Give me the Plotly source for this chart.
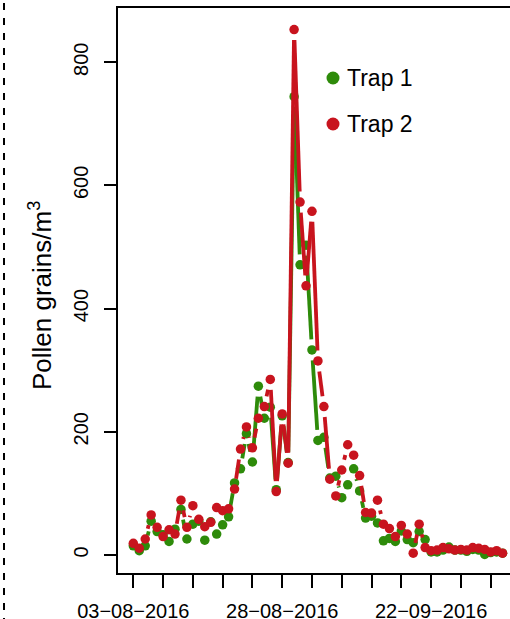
import math
import pandas as pd
import plotly.graph_objects as go

# ---------------- data ----------------
start_date = "2016-08-03"
trap1 = [15, 7, 15, 55, 38, 33, 22, 42, 74, 26, 50, 55, 24, 54, 34, 49, 62, 117, 140, 197,
         151, 274, 222, 240, 106, 226, 150, 744, 471, 503, 333, 186, 191, 125, 128, 93, 114, 140,
         104, 60, 63, 52, 23, 27, 22, 39, 25, 20, 38, 25, 5, 5, 8, 13, 8, 8, 6, 9, 8, 1, 4, 5, 3]
trap2 = [19, 11, 26, 65, 45, 30, 41, 34, 89, 45, 80, 58, 46, 53, 77, 72, 75, 107, 172, 208,
         174, 222, 241, 285, 103, 229, 149, 853, 573, 437, 558, 315, 241, 123, 96, 138, 179, 162,
         129, 69, 68, 89, 50, 43, 30, 48, 34, 3, 50, 12, 7, 8, 12, 10, 8, 9, 8, 12, 11, 9, 5, 7, 3]
series_names = ["Trap 1", "Trap 2"]
y_ticks = [0, 200, 400, 600, 800]
x_label_dates = ["2016-08-03", "2016-08-28", "2016-09-22"]
x_tick_labels = ["03−08−2016", "28−08−2016", "22−09−2016"]
n_minor_ticks = 13          # one tick every 5 days

# ---------------- style ----------------
GREEN = "#2e8b0a"
RED = "#c8141e"
FONT = "Liberation Sans, Arial, sans-serif"
W, H = 510, 619
ML, MR, MT, MB = 118, 0, 8, 46
PW, PH = W - ML - MR, H - MT - MB
XR = [-2.57, 63.25]      # days from start
YR = [-29.2, 888.0]
GAP = 10.5               # px gap around points (R type = "b")

t0 = pd.Timestamp(start_date)
dates = pd.date_range(start_date, periods=len(trap1), freq="D")
minor_dates = pd.date_range(start_date, periods=n_minor_ticks, freq="5D")


def to_px(d, v):
    return ((d - XR[0]) / (XR[1] - XR[0]) * PW, (v - YR[0]) / (YR[1] - YR[0]) * PH)


def from_px(px, py):
    return (XR[0] + px / PW * (XR[1] - XR[0]), YR[0] + py / PH * (YR[1] - YR[0]))


def gapped_segments(values):
    xs, ys = [], []
    for i in range(len(values) - 1):
        p0 = to_px(i, values[i])
        p1 = to_px(i + 1, values[i + 1])
        dx, dy = p1[0] - p0[0], p1[1] - p0[1]
        L = math.hypot(dx, dy)
        if L <= 2 * GAP:
            continue
        a = from_px(p0[0] + dx * GAP / L, p0[1] + dy * GAP / L)
        b = from_px(p1[0] - dx * GAP / L, p1[1] - dy * GAP / L)
        xs += [t0 + pd.Timedelta(days=a[0]), t0 + pd.Timedelta(days=b[0]), None]
        ys += [a[1], b[1], None]
    return xs, ys


fig = go.Figure()
for vals, col, name in [(trap1, GREEN, series_names[0]), (trap2, RED, series_names[1])]:
    sx, sy = gapped_segments(vals)
    fig.add_trace(go.Scatter(x=sx, y=sy, mode="lines", line=dict(color=col, width=3.8),
                             showlegend=False, hoverinfo="skip"))
    fig.add_trace(go.Scatter(x=dates, y=vals, mode="markers", name=name,
                             marker=dict(color=col, size=9.5, line=dict(width=0)),
                             showlegend=False))

fig.update_layout(
    width=W, height=H, autosize=False,
    margin=dict(l=ML, r=MR, t=MT, b=MB, pad=0),
    paper_bgcolor="white", plot_bgcolor="white",
    font=dict(family=FONT, color="black", size=20),
    xaxis=dict(type="date", automargin=False,
               range=[t0 + pd.Timedelta(days=XR[0]), t0 + pd.Timedelta(days=XR[1])],
               tickvals=x_label_dates, ticktext=x_tick_labels,
               ticks="outside", ticklen=13, tickwidth=2, tickcolor="black",
               minor=dict(tickvals=list(minor_dates), ticks="outside", ticklen=13,
                          tickwidth=2, tickcolor="black", showgrid=False),
               showline=True, linewidth=2, linecolor="black", mirror=True,
               showgrid=False, zeroline=False, tickfont=dict(size=20),
               ticklabelstandoff=6),
    yaxis=dict(range=YR, tickvals=y_ticks, ticktext=[str(v) for v in y_ticks],
               automargin=False,
               ticks="outside", ticklen=12, tickwidth=2, tickcolor="black",
               showline=True, linewidth=2, linecolor="black", mirror=False,
               showgrid=False, zeroline=False, tickangle=-90,
               tickfont=dict(size=20), ticklabelstandoff=8),
)

# y-axis title
fig.add_annotation(text="Pollen grains/m<sup>3</sup>", xref="paper", yref="paper",
                   x=(40 - ML) / PW, y=(MT + PH - 296) / PH, textangle=-90,
                   showarrow=False, xanchor="center", yanchor="middle",
                   font=dict(size=26, family=FONT, color="black"))

# legend (R style: points only)
for i, (name, col) in enumerate(zip(series_names, [GREEN, RED])):
    ypx = 78 + 46 * i
    yp = (MT + PH - ypx) / PH
    xp = (333 - ML) / PW
    fig.add_shape(type="circle", xref="paper", yref="paper", xsizemode="pixel",
                  ysizemode="pixel", xanchor=xp, yanchor=yp, x0=-6.5, x1=6.5, y0=-6.5, y1=6.5,
                  fillcolor=col, line=dict(width=0))
    fig.add_annotation(text=name, xref="paper", yref="paper", x=(345 - ML) / PW, y=yp,
                       xanchor="left", yanchor="middle", showarrow=False,
                       font=dict(size=23, family=FONT, color="black"))

# dashed frame line at the far left
fig.add_shape(type="line", xref="paper", yref="paper",
              x0=(4 - ML) / PW, x1=(4 - ML) / PW,
              y0=(MT + PH - 3) / PH, y1=(MT + PH - 625) / PH,
              line=dict(color="black", width=2, dash="7px,8px"))

fig.write_html("out.html", config={"displayModeBar": False},
               post_script="document.body.style.margin='0';document.body.style.padding='0';")
